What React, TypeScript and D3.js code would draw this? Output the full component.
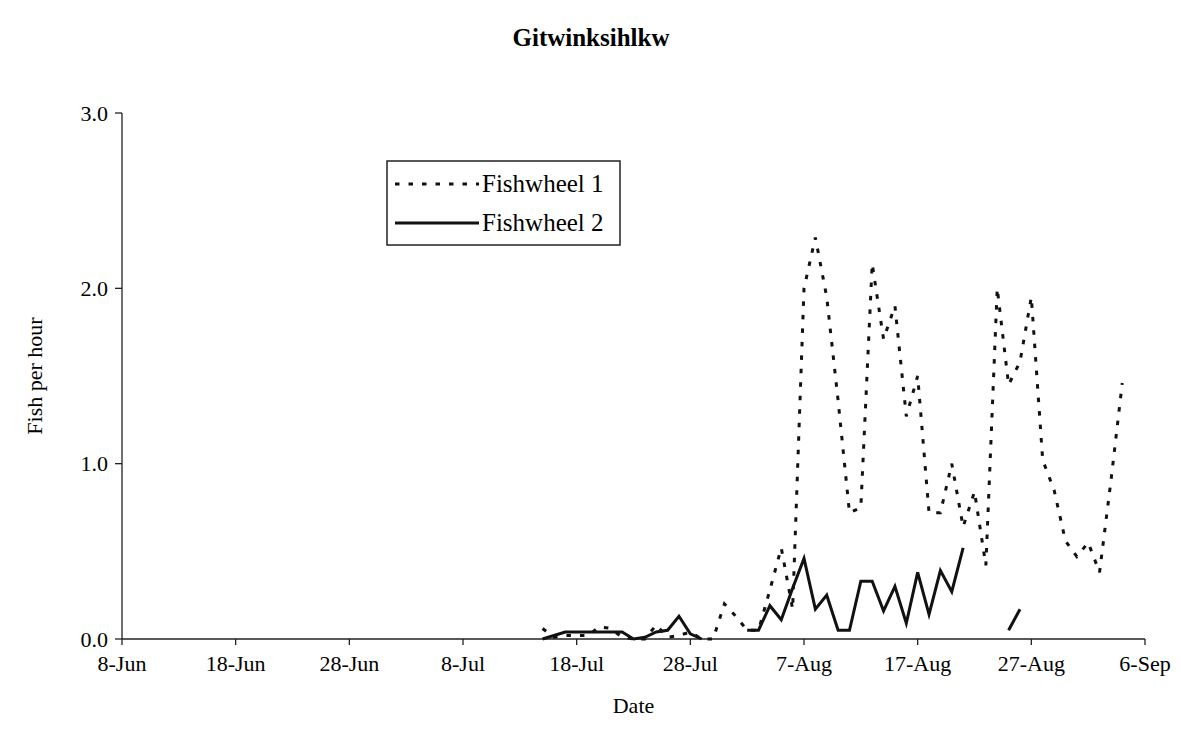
import * as React from 'react';
import * as d3 from 'd3';

// daily catch rates, 15-Jul to 4-Sep
const startDay = new Date(1999, 6, 15);
const fishwheel1 = [
  0.06, 0.01, 0.02, 0.02, 0.02, 0.07, 0.06, 0.01, 0.0, 0.0,
  0.08, 0.01, 0.02, 0.04, 0.0, 0.0, 0.2, 0.13, 0.05, 0.05,
  0.28, 0.52, 0.17, 2.0, 2.29, 1.95, 1.36, 0.72, 0.75, 2.14,
  1.71, 1.9, 1.27, 1.5, 0.72, 0.72, 1.0, 0.64, 0.84, 0.42,
  2.0, 1.45, 1.58, 1.95, 1.02, 0.85, 0.56, 0.47, 0.55, 0.38,
  0.9, 1.46,
];
const fishwheel2 = [
  0, 0.02, 0.04, 0.04, 0.04, 0.04, 0.04, 0.04, 0, 0.01,
  0.04, 0.05, 0.13, 0.03, 0, null, null, null, 0.05, 0.05,
  0.19, 0.11, 0.29, 0.46, 0.17, 0.25, 0.05, 0.05, 0.33, 0.33,
  0.16, 0.3, 0.09, 0.38, 0.14, 0.39, 0.27, 0.52, null, null,
  null, 0.05, 0.17, null, null, null, null, null, null, null,
  null, null,
];
const xTickLabels = ['8-Jun', '18-Jun', '28-Jun', '8-Jul', '18-Jul', '28-Jul', '7-Aug', '17-Aug', '27-Aug', '6-Sep'];
const yTicks = [0, 1, 2, 3];

const width = 1181;
const height = 742;
const margin = {top: 113, right: 36, bottom: 103, left: 122};
const font = '"Liberation Serif", "Times New Roman", serif';

export default function App() {
  const x = d3.scaleTime()
    .domain([new Date(1999, 5, 8), new Date(1999, 8, 6)])
    .range([margin.left, width - margin.right]);
  const y = d3.scaleLinear().domain([0, 3]).range([height - margin.bottom, margin.top]);

  const xTicks = d3.timeDay.range(new Date(1999, 5, 8), new Date(1999, 8, 7), 10);
  const days = fishwheel1.map((_, i) => d3.timeDay.offset(startDay, i));

  const line = d3.line<[Date, number | null]>()
    .defined(d => d[1] != null)
    .x(d => x(d[0]))
    .y(d => y(d[1] as number));

  const s1 = line(days.map((d, i) => [d, fishwheel1[i]]));
  const s2 = line(days.map((d, i) => [d, fishwheel2[i]]));
  const y0 = y(0);

  return (
    <svg width={width} height={height} style={{position: 'absolute', left: 0, top: 0}} fontFamily={font}>
      <rect width={width} height={height} fill="#fff" />
      <text x={591} y={46} textAnchor="middle" fontWeight="bold" fontSize={25}>Gitwinksihlkw</text>

      {/* axes */}
      <line x1={margin.left} x2={margin.left} y1={y(3)} y2={y0} stroke="#222" strokeWidth={1.3} />
      <line x1={margin.left} x2={width - margin.right} y1={y0} y2={y0} stroke="#222" strokeWidth={1.3} />
      {yTicks.map(t => (
        <g key={t}>
          <line x1={margin.left - 7} x2={margin.left} y1={y(t)} y2={y(t)} stroke="#222" strokeWidth={1.3} />
          <text x={margin.left - 14} y={y(t)} dy="0.35em" textAnchor="end" fontSize={22}>{t.toFixed(1)}</text>
        </g>
      ))}
      {xTicks.map((t, i) => (
        <g key={i}>
          <line x1={x(t)} x2={x(t)} y1={y0} y2={y0 + 6} stroke="#222" strokeWidth={1.3} />
          <text x={x(t)} y={y0 + 32} textAnchor="middle" fontSize={22}>{xTickLabels[i]}</text>
        </g>
      ))}
      <text x={(margin.left + width - margin.right) / 2} y={713} textAnchor="middle" fontSize={22}>Date</text>
      <text transform={`translate(42,${(y(3) + y0) / 2}) rotate(-90)`} textAnchor="middle" fontSize={22}>Fish per hour</text>

      {/* series */}
      <path d={s1 ?? ''} fill="none" stroke="#111" strokeWidth={3} strokeDasharray="4.5,9" />
      <path d={s2 ?? ''} fill="none" stroke="#111" strokeWidth={3} strokeLinejoin="miter" />

      {/* legend */}
      <g>
        <rect x={387} y={161} width={233} height={84} fill="#fff" stroke="#222" strokeWidth={1.5} />
        <line x1={395} x2={479} y1={184} y2={184} stroke="#111" strokeWidth={3} strokeDasharray="4.5,9" />
        <text x={482} y={192} fontSize={25}>Fishwheel 1</text>
        <line x1={395} x2={479} y1={223} y2={223} stroke="#111" strokeWidth={3} />
        <text x={482} y={231} fontSize={25}>Fishwheel 2</text>
      </g>
    </svg>
  );
}
